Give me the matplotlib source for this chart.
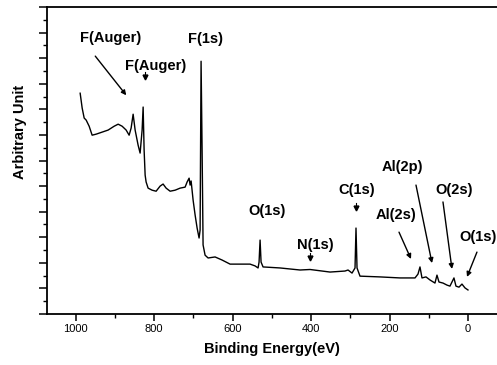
import matplotlib
matplotlib.use("Agg")
import matplotlib.pyplot as plt
from matplotlib.ticker import MultipleLocator

plt.rcParams["font.family"] = ["Liberation Sans", "DejaVu Sans"]

# survey spectrum (binding energy in eV, arbitrary intensity)
energy = [988.5, 983.4, 978.3, 973.2, 965.6, 958.0, 947.8, 932.5, 917.2, 901.9,
          891.7, 881.5, 871.3, 863.7, 858.6, 853.5, 848.4, 840.8, 835.7, 830.6,
          828.0, 825.5, 822.9, 820.4, 815.3, 805.1, 794.9, 784.7, 777.1, 769.4,
          759.2, 746.5, 733.8, 721.0, 715.9, 710.8, 708.3, 705.7, 700.6, 695.5,
          690.4, 685.4, 682.8, 680.3, 677.7, 675.2, 670.1, 662.4, 644.6, 626.8,
          606.4, 580.9, 555.4, 542.7, 535.0, 532.5, 529.9, 527.4, 522.3, 479.0,
          428.0, 402.5, 351.6, 313.4, 305.7, 295.5, 287.9, 285.4, 282.8, 275.2,
          224.2, 173.2, 135.0, 127.4, 122.3, 117.2, 107.0, 96.8, 84.1, 79.0,
          73.9, 63.7, 53.5, 45.9, 35.7, 30.6, 22.9, 15.3, 7.6, 0.0]
intensity = [8.63, 8.05, 7.66, 7.58, 7.34, 6.99, 7.03, 7.11, 7.19, 7.34,
             7.42, 7.34, 7.19, 6.99, 7.27, 7.81, 7.19, 6.60, 6.29, 7.19,
             8.09, 6.41, 5.43, 5.16, 4.92, 4.84, 4.80, 5.00, 5.08, 4.92,
             4.80, 4.84, 4.92, 4.96, 5.16, 5.31, 5.04, 5.20, 4.45, 3.87,
             3.36, 2.97, 3.28, 9.88, 6.41, 2.70, 2.30, 2.19, 2.23, 2.11,
             1.95, 1.95, 1.95, 1.88, 1.80, 2.03, 2.89, 2.03, 1.84, 1.80,
             1.72, 1.74, 1.64, 1.68, 1.72, 1.60, 1.80, 3.36, 1.80, 1.48,
             1.45, 1.41, 1.41, 1.56, 1.84, 1.41, 1.45, 1.33, 1.21, 1.52,
             1.25, 1.21, 1.13, 1.09, 1.41, 1.09, 1.05, 1.17, 1.02, 0.94]

# peak labels: text, text position, arrow tail, arrow head (tail None -> small tick arrow)
labels = ["F(Auger)", "F(Auger)", "F(1s)", "O(1s)", "N(1s)", "C(1s)",
          "Al(2s)", "Al(2p)", "O(2s)", "O(1s)"]
label_xy = [(909.6, 10.78), (797.0, 9.69), (670.0, 10.74), (512.0, 4.02),
            (390.0, 2.70), (282.8, 4.84), (183.4, 3.87), (168.2, 5.74),
            (35.7, 4.84), (-25.5, 3.01)]
arrow_tail = [(950.0, 10.08), None, None, None, None, None,
              (175.8, 3.20), (132.5, 5.04), (63.7, 4.38), (-22.9, 2.42)]
arrow_head = [(871.0, 8.55), (823.0, 9.26), None, None, (402.5, 2.19), (285.4, 4.14),
              (145.2, 2.15), (91.7, 1.99), (40.8, 1.76), (2.5, 1.45)]

fig = plt.figure(figsize=(4.97, 3.65), dpi=100, facecolor="white")
ax = fig.add_axes([0.0946, 0.1397, 0.9054, 0.8411])

ax.plot(energy, intensity, color="black", linewidth=1.0)

for text, xy, tail, head in zip(labels, label_xy, arrow_tail, arrow_head):
    ax.text(xy[0], xy[1], text, ha="center", va="center", fontsize=10.5,
            fontweight="bold", color="black")
    if head is None:
        continue
    if tail is None:
        ax.plot([head[0], head[0]], [head[1] + 0.2, head[1]], color="black", linewidth=0.8)
        ax.plot([head[0]], [head[1]], marker="v", markersize=3.5, color="black")
    else:
        ax.annotate("", xy=head, xytext=tail,
                    arrowprops=dict(arrowstyle="-|>", color="black", linewidth=1.0,
                                    mutation_scale=7, shrinkA=0, shrinkB=0))

ax.set_xlim(1073, -74)
ax.set_ylim(0, 12)
ax.xaxis.set_major_locator(MultipleLocator(200))
ax.xaxis.set_minor_locator(MultipleLocator(100))
ax.yaxis.set_major_locator(MultipleLocator(1))
ax.yaxis.set_minor_locator(MultipleLocator(0.5))
ax.tick_params(axis="x", which="major", length=5, width=1.1, labelsize=8, pad=2)
ax.tick_params(axis="x", which="minor", length=3, width=1.0)
ax.tick_params(axis="y", which="major", length=6, width=1.1, labelleft=False)
ax.tick_params(axis="y", which="minor", length=3, width=1.0)
ax.spines["right"].set_visible(False)
for side in ("top", "bottom", "left"):
    ax.spines[side].set_linewidth(1.3)

ax.set_xlabel("Binding Energy(eV)", fontsize=10.5, fontweight="bold", labelpad=6)
ax.set_ylabel("Arbitrary Unit", fontsize=10.5, fontweight="bold")
ax.yaxis.set_label_coords(-0.044, 0.593)

fig.savefig("out.png", dpi=100, facecolor="white")
